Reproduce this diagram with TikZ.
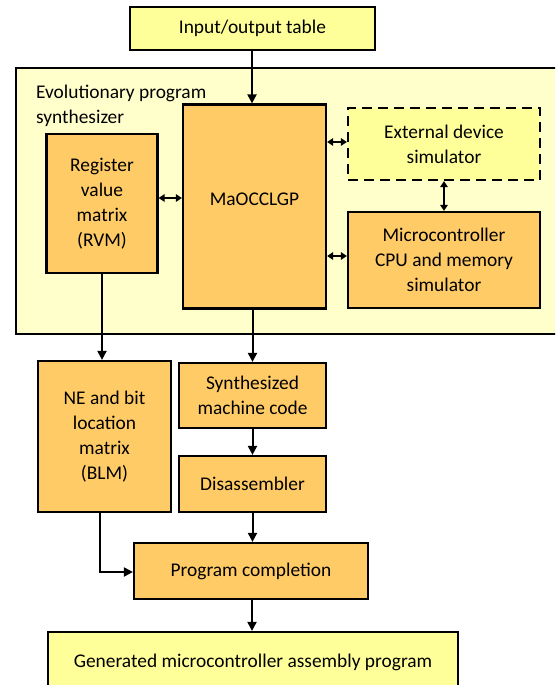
\documentclass[tikz,border=0pt]{standalone}
\usepackage{fontspec}
\setmainfont{Carlito}
\usetikzlibrary{arrows.meta}
\definecolor{ofill}{HTML}{FFCB66}
\definecolor{yfill}{HTML}{FFFF99}
\definecolor{lfill}{HTML}{FFFFCC}
\tikzset{
  base/.style={draw=black, line width=2.2pt, align=center, inner sep=0pt,
    font=\fontsize{19.4}{25}\selectfont},
  obox/.style={base, fill=ofill},
  ybox/.style={base, fill=yfill},
  dbox/.style={base, fill=yfill, dash pattern=on 10pt off 6pt},
  arr/.style={line width=2pt, -{Triangle[length=9pt,width=9pt]}},
  darr/.style={line width=2pt, {Triangle[length=6pt,width=7.5pt]}-{Triangle[length=6pt,width=7.5pt]}},
}
\begin{document}
\begin{tikzpicture}[x=1pt,y=-1pt]
\useasboundingbox (0,0) rectangle (555,685);
\clip (0,0) rectangle (555,685);
\fill[white] (0,0) rectangle (555,685);
% outer synthesizer frame
\node[base, fill=lfill, minimum width=550, minimum height=266] (outer) at (291,201) {};
\node[base, draw=none, anchor=north west, align=left] (lbl) at (35,84) {Evolutionary program\\synthesizer};
% boxes
\node[ybox, minimum width=245, minimum height=43] (io) at (252.5,28.5) {Input/output table};
\node[obox, minimum width=143, minimum height=204, text depth=14pt] (ma) at (254.5,206.5) {MaOCCLGP};
\node[obox, minimum width=111, minimum height=139] (rvm) at (102,203.5) {Register\\value\\matrix\\(RVM)};
\node[dbox, minimum width=192, minimum height=72] (ext) at (444,144) {External device\\simulator};
\node[obox, minimum width=192, minimum height=96] (mcu) at (444,260) {Microcontroller\\CPU and memory\\simulator};
\node[obox, minimum width=133, minimum height=151] (ne) at (104.5,436.5) {NE and bit\\location\\matrix\\(BLM)};
\node[obox, minimum width=147, minimum height=65] (syn) at (252.5,395.5) {Synthesized\\machine code};
\node[obox, minimum width=147, minimum height=56] (dis) at (252.5,484) {Disassembler};
\node[obox, minimum width=234, minimum height=56] (pc) at (251,571) {Program completion};
\node[ybox, minimum width=410, minimum height=60] (gen) at (253,662) {Generated microcontroller assembly program};
\coordinate (bend) at (100,572);
% connectors
\draw[arr] (io.south -| ma.north) ++(-2.5,0) coordinate (a1) -- (a1 |- ma.north);
\draw[darr] (rvm.east |- 0,198) -- (ma.west |- 0,198);
\draw[darr] (ma.east |- 0,142) -- (ext.west |- 0,142);
\draw[darr] (ma.east |- 0,256) -- (mcu.west |- 0,256);
\draw[darr] (ext.south) -- (mcu.north);
\draw[arr] (rvm.south) -- (rvm.south |- ne.north);
\draw[arr] (ma.south -| syn.north) -- (syn.north);
\draw[arr] (syn.south) -- (dis.north);
\draw[arr] (dis.south) -- (dis.south |- pc.north);
\draw[arr] (ne.south -| bend) -- (bend) -- (pc.west |- bend);
\draw[arr] (pc.south -| gen.north) ++(-1,0) coordinate (a2) -- (a2 |- gen.north);
\end{tikzpicture}
\end{document}
